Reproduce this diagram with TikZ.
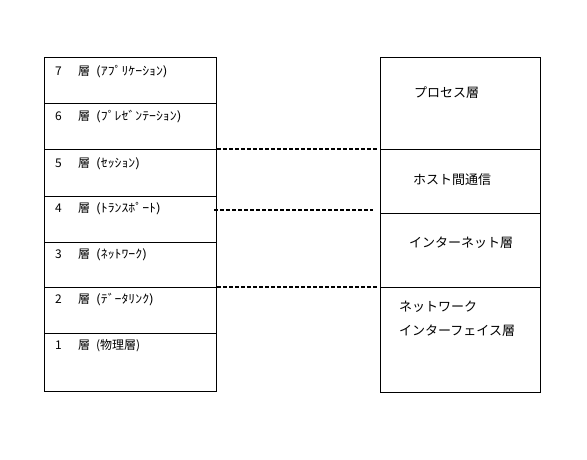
\documentclass[tikz,border=0pt]{standalone}
\usepackage{fontspec}
\usepackage{graphicx}
\setmainfont{Noto Sans CJK JP}
\begin{document}
\begin{tikzpicture}[x=1pt,y=-1pt,
  layer/.style={draw=black,line width=0.9pt,inner sep=0pt,minimum width=172pt},
  rlayer/.style={draw=black,line width=0.9pt,inner sep=0pt,minimum width=160pt},
  ltxt/.style={anchor=west,inner sep=0pt,font=\fontsize{12}{14}\selectfont},
  rtxt/.style={anchor=west,inner sep=0pt,font=\fontsize{13}{24}\selectfont,align=left},
  link/.style={draw=black,line width=1.4pt,dash pattern=on 4pt off 2pt}]
\useasboundingbox (0,0) rectangle (587,460);
% left stack
\node[layer,minimum height=46pt] (L7) at (130,80) {};
\node[layer,minimum height=46pt] (L6) at (130,126) {};
\node[layer,minimum height=47pt] (L5) at (130,172.5) {};
\node[layer,minimum height=46pt] (L4) at (130,219) {};
\node[layer,minimum height=45pt] (L3) at (130,264.5) {};
\node[layer,minimum height=46pt] (L2) at (130,310) {};
\node[layer,minimum height=58pt] (L1) at (130,362) {};
\newcommand{\lrow}[2]{\makebox[23pt][l]{#1}\makebox[18pt][l]{層}\scalebox{1.15}[1]{#2}}
\node[ltxt] (T7) at (55,72) {\lrow{7}{(ｱﾌﾟﾘｹｰｼｮﾝ)}};
\node[ltxt] (T6) at (55,117) {\lrow{6}{(ﾌﾟﾚｾﾞﾝﾃｰｼｮﾝ)}};
\node[ltxt] (T5) at (55,164) {\lrow{5}{(ｾｯｼｮﾝ)}};
\node[ltxt] (T4) at (55,209) {\lrow{4}{(ﾄﾗﾝｽﾎﾟｰﾄ)}};
\node[ltxt] (T3) at (55,255) {\lrow{3}{(ﾈｯﾄﾜｰｸ)}};
\node[ltxt] (T2) at (55,300) {\lrow{2}{(ﾃﾞｰﾀﾘﾝｸ)}};
\node[ltxt] (T1) at (55,346) {\makebox[23pt][l]{1}\makebox[18pt][l]{層}(物理層)};
% right stack
\node[rlayer,minimum height=92pt] (R1) at (460,103) {};
\node[rlayer,minimum height=64pt] (R2) at (460,181) {};
\node[rlayer,minimum height=74pt] (R3) at (460,250) {};
\node[rlayer,minimum height=105pt] (R4) at (460,339.5) {};
\node[rtxt] (S1) at (414,93) {プロセス層};
\node[rtxt] (S2) at (413,180) {ホスト間通信};
\node[rtxt] (S3) at (409,243) {インターネット層};
\node[rtxt,anchor=north west] (S4) at (399,301) {ネットワーク\\インターフェイス層};
% dashed correspondences
\coordinate (A4) at (214,210);
\coordinate (B4) at (373,210);
\draw[link] ([xshift=1pt,yshift=-0.3pt]L5.north east) -- ([xshift=-3pt,yshift=-0.3pt]R2.north west);
\draw[link] (A4) -- (B4);
\draw[link] ([xshift=1pt,yshift=-0.3pt]L2.north east) -- ([xshift=-3pt,yshift=-0.3pt]R4.north west);
\end{tikzpicture}
\end{document}
